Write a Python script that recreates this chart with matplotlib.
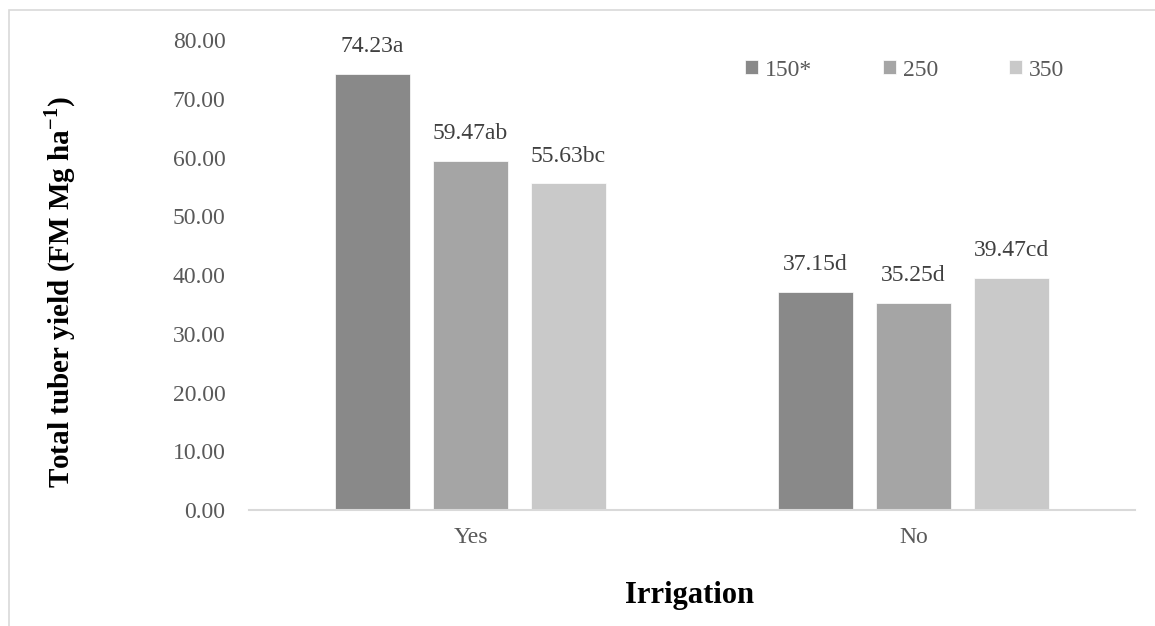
import numpy as np
import matplotlib.pyplot as plt
from matplotlib.patches import Rectangle

plt.rcParams.update({
    "font.family": "Liberation Serif",
    "mathtext.fontset": "custom",
    "mathtext.rm": "Liberation Serif",
    "mathtext.bf": "Liberation Serif:bold",
})

categories = ["Yes", "No"]
series = ["150*", "250", "350"]
values = {
    "150*": [74.23, 37.15],
    "250": [59.47, 35.25],
    "350": [55.63, 39.47],
}
letters = {
    "150*": ["a", "d"],
    "250": ["ab", "d"],
    "350": ["bc", "cd"],
}
colors = ["#898989", "#a5a5a5", "#c9c9c9"]

fig = plt.figure(figsize=(11.55, 6.26), dpi=100)
ax = fig.add_axes([0.2156, 0.1853, 0.7671, 0.7508])

# thin frame round the chart area (top and left only visible)
fig.patches.append(
    Rectangle((9 / 1155, -0.1), 1.2, 1 - 10 / 626 + 0.1,
              transform=fig.transFigure, fill=False,
              edgecolor="#d9d9d9", linewidth=1.2)
)

x = np.arange(len(categories))
step = 0.221
width = 0.171
for j, name in enumerate(series):
    pos = x + (j - 1) * step
    bars = ax.bar(pos, values[name], width, color=colors[j], label=name,
                  edgecolor="white", linewidth=0.5)
    for b, v, l in zip(bars, values[name], letters[name]):
        ax.annotate(f"{v:.2f}{l}", (b.get_x() + b.get_width() / 2, v),
                    xytext=(0, 12), textcoords="offset points",
                    ha="center", va="bottom", fontsize=17, color="#404040")

ax.set_xlim(-0.5, 1.5)
ax.set_ylim(0, 80)
ax.set_yticks(np.arange(0, 81, 10))
ax.set_yticklabels([f"{t:.2f}" for t in np.arange(0, 81, 10)])
ax.set_xticks(x)
ax.set_xticklabels(categories)
ax.tick_params(axis="y", length=0, pad=17, labelsize=17, labelcolor="#595959")
ax.tick_params(axis="x", length=0, pad=12, labelsize=17, labelcolor="#595959")
for s in ["top", "right", "left"]:
    ax.spines[s].set_visible(False)
ax.spines["bottom"].set_color("#d9d9d9")
ax.spines["bottom"].set_linewidth(1.5)

fig.text(690 / 1155, 1 - 595 / 626, "Irrigation", ha="center", va="center",
         fontsize=22, fontweight="bold")
fig.text(60 / 1155, 1 - 292 / 626, r"Total tuber yield (FM Mg ha$^{\mathbf{-1}}$)",
         ha="center", va="center", rotation=90, fontsize=21, fontweight="bold")

leg = ax.legend(ncol=3, loc="center left", bbox_to_anchor=(745 / 1155, 1 - 70 / 626),
                bbox_transform=fig.transFigure, frameon=False, fontsize=17,
                handlelength=0.55, handleheight=0.55, handletextpad=0.3,
                columnspacing=3.0, borderaxespad=0, borderpad=0)
for t in leg.get_texts():
    t.set_color("#595959")

fig.savefig("out.png", dpi=100)
